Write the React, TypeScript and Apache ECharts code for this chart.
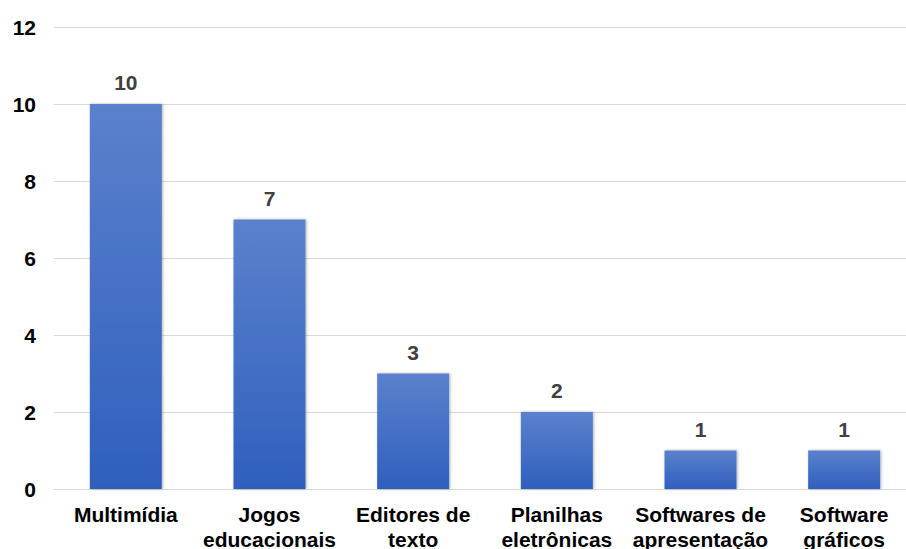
import React, { useEffect, useRef } from "react";
import * as echarts from "echarts";

const categories = [
  "Multimídia",
  "Jogos\neducacionais",
  "Editores de\ntexto",
  "Planilhas\neletrônicas",
  "Softwares de\napresentação",
  "Software\ngráficos",
];
const values = [10, 7, 3, 2, 1, 1];
const yTicks = { min: 0, max: 12, interval: 2 };

export default function App() {
  const ref = useRef<HTMLDivElement>(null);
  useEffect(() => {
    if (!ref.current) return;
    const chart = echarts.init(ref.current, null, { renderer: "svg" });
    chart.setOption({
      animation: false,
      backgroundColor: "#ffffff",
      grid: {
        left: 54,
        top: 27,
        width: 862,
        height: 462,
        containLabel: false,
        outerBoundsMode: "none",
      },
      xAxis: {
        type: "category",
        data: categories,
        axisLine: { lineStyle: { color: "#d9d9d9", width: 1 } },
        axisTick: { show: false },
        axisLabel: {
          interval: 0,
          margin: 13,
          color: "#000000",
          fontFamily: "Liberation Sans",
          fontWeight: "bold",
          fontSize: 21,
          lineHeight: 25,
        },
      },
      yAxis: {
        type: "value",
        min: yTicks.min,
        max: yTicks.max,
        interval: yTicks.interval,
        axisLine: { show: false },
        axisTick: { show: false },
        splitLine: { lineStyle: { color: "#d9d9d9", width: 1 } },
        axisLabel: {
          margin: 18,
          color: "#000000",
          fontFamily: "Liberation Sans",
          fontWeight: "bold",
          fontSize: 21,
        },
      },
      series: [
        {
          type: "bar",
          data: values,
          barWidth: 72,
          itemStyle: {
            color: new echarts.graphic.LinearGradient(0, 0, 0, 1, [
              { offset: 0, color: "#5b81cd" },
              { offset: 1, color: "#2f5fbd" },
            ]),
            shadowBlur: 3,
            shadowColor: "rgba(0,0,0,0.3)",
            shadowOffsetX: 1,
            shadowOffsetY: 0,
          },
          label: {
            show: true,
            position: "top",
            distance: 11,
            color: "#404040",
            fontFamily: "Liberation Sans",
            fontWeight: "bold",
            fontSize: 21,
          },
        },
      ],
    });
    return () => chart.dispose();
  }, []);
  return (
    <div
      ref={ref}
      style={{ position: "fixed", left: 0, top: 0, width: 906, height: 549 }}
    />
  );
}
